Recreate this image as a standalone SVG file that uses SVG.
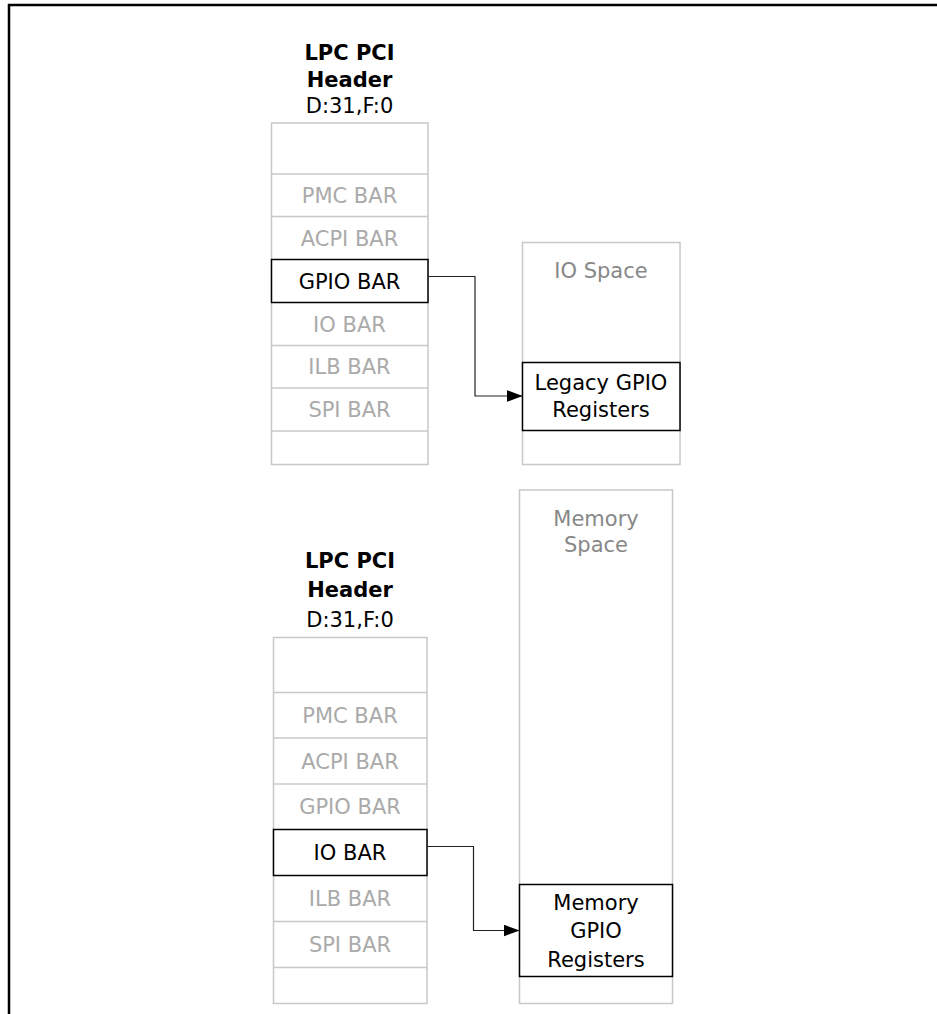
<svg xmlns="http://www.w3.org/2000/svg" width="937" height="1014" viewBox="0 0 937 1014">
<style>
  text { font-family: "DejaVu Sans", Verdana, sans-serif; font-size: 21px; text-anchor: middle; }
  .g { fill: #aaaaaa; }
  .s { fill: #888888; }
  .k { fill: #000000; }
  .b { font-weight: bold; }
  .gbox { fill: #ffffff; stroke: #c8c8c8; stroke-width: 1.5; }
  .gline { stroke: #c8c8c8; stroke-width: 1.5; }
  .kbox { fill: #ffffff; stroke: #000000; stroke-width: 1.5; }
  .conn { fill: none; stroke: #222222; stroke-width: 1.2; }
</style>
<defs>
  <marker id="arr" markerUnits="userSpaceOnUse" markerWidth="16" markerHeight="12" refX="16" refY="6" orient="auto">
    <path d="M0,0 L16,6 L0,12 Z" fill="#000000"/>
  </marker>
</defs>
<rect x="9" y="5" width="940" height="1020" fill="none" stroke="#000000" stroke-width="2.5"/>

<g id="lpc-top">
  <text class="k b" x="349.5" y="60">LPC PCI</text>
  <text class="k b" x="349.5" y="87">Header</text>
  <text class="k" x="349.5" y="113">D:31,F:0</text>
  <rect class="gbox" x="271.5" y="123" width="156.5" height="341.5"/>
  <line class="gline" x1="271.5" y1="174" x2="428" y2="174"/>
  <line class="gline" x1="271.5" y1="216.5" x2="428" y2="216.5"/>
  <line class="gline" x1="271.5" y1="345.5" x2="428" y2="345.5"/>
  <line class="gline" x1="271.5" y1="388" x2="428" y2="388"/>
  <line class="gline" x1="271.5" y1="431" x2="428" y2="431"/>
  <text class="g" x="349.5" y="202.5">PMC BAR</text>
  <text class="g" x="349.5" y="245.5">ACPI BAR</text>
  <rect class="kbox" x="271.5" y="259.5" width="156.5" height="43"/>
  <text class="k" x="349.5" y="288.5">GPIO BAR</text>
  <text class="g" x="349.5" y="331.5">IO BAR</text>
  <text class="g" x="349.5" y="374">ILB BAR</text>
  <text class="g" x="349.5" y="417">SPI BAR</text>
</g>

<g id="io-space">
  <rect class="gbox" x="522.5" y="242.5" width="157.5" height="222"/>
  <text class="s" x="601" y="278">IO Space</text>
</g>

<g id="legacy-gpio">
  <rect class="kbox" x="522.5" y="362.5" width="157.5" height="68"/>
  <text class="k" x="601" y="389.5">Legacy GPIO</text>
  <text class="k" x="601" y="416.5">Registers</text>
</g>

<g id="lpc-bottom">
  <text class="k b" x="350" y="568">LPC PCI</text>
  <text class="k b" x="350" y="597">Header</text>
  <text class="k" x="350" y="627">D:31,F:0</text>
  <rect class="gbox" x="273.5" y="637.5" width="153.5" height="366"/>
  <line class="gline" x1="273.5" y1="692.5" x2="427" y2="692.5"/>
  <line class="gline" x1="273.5" y1="738" x2="427" y2="738"/>
  <line class="gline" x1="273.5" y1="784" x2="427" y2="784"/>
  <line class="gline" x1="273.5" y1="921.5" x2="427" y2="921.5"/>
  <line class="gline" x1="273.5" y1="967.5" x2="427" y2="967.5"/>
  <text class="g" x="350" y="722.5">PMC BAR</text>
  <text class="g" x="350" y="768.5">ACPI BAR</text>
  <text class="g" x="350" y="814">GPIO BAR</text>
  <rect class="kbox" x="273.5" y="829.5" width="153.5" height="46"/>
  <text class="k" x="350" y="860">IO BAR</text>
  <text class="g" x="350" y="906">ILB BAR</text>
  <text class="g" x="350" y="952">SPI BAR</text>
</g>

<g id="memory-space">
  <rect class="gbox" x="519.5" y="490" width="153" height="513.5"/>
  <text class="s" x="596" y="525.5">Memory</text>
  <text class="s" x="596" y="551.5">Space</text>
</g>

<g id="memory-gpio">
  <rect class="kbox" x="519.5" y="884.5" width="153" height="92"/>
  <text class="k" x="596" y="910">Memory</text>
  <text class="k" x="596" y="938">GPIO</text>
  <text class="k" x="596" y="966.5">Registers</text>
</g>

<g id="connectors">
  <polyline class="conn" points="428,276.5 475,276.5 475,396 522.5,396" marker-end="url(#arr)"/>
  <polyline class="conn" points="427,846.5 473.5,846.5 473.5,930.5 519.5,930.5" marker-end="url(#arr)"/>
</g>
</svg>
